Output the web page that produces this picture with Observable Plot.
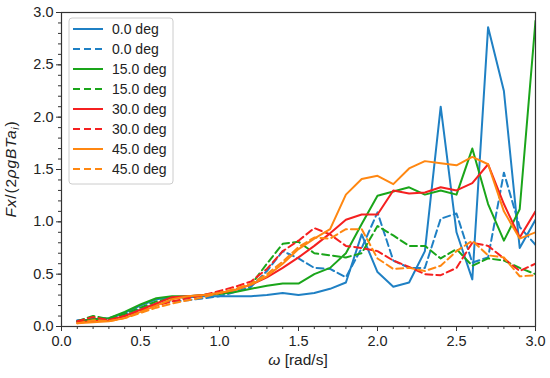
<!DOCTYPE html>
<html>
<head>
<meta charset="utf-8">
<script src="https://cdn.jsdelivr.net/npm/d3@7"></script>
<script src="https://cdn.jsdelivr.net/npm/@observablehq/plot@0.6"></script>
<style>
  html, body { margin: 0; padding: 0; background: #fff; }
  #chart { width: 550px; height: 378px; }
</style>
</head>
<body>
<div id="chart"></div>
<script>
const omega = [0.1,0.2,0.3,0.4,0.5,0.6,0.7,0.8,0.9,1.0,1.1,1.2,1.3,1.4,1.5,1.6,1.7,1.8,1.9,2.0,2.1,2.2,2.3,2.4,2.5,2.6,2.7,2.8,2.9,3.0];

const deg0_solid  = [0.05,0.07,0.08,0.13,0.20,0.26,0.28,0.28,0.29,0.29,0.29,0.29,0.30,0.32,0.30,0.32,0.36,0.42,0.88,0.52,0.38,0.42,0.72,2.10,0.90,0.45,2.86,2.25,0.75,1.02];
const deg0_dashed = [0.06,0.07,0.07,0.11,0.17,0.22,0.24,0.25,0.27,0.29,0.33,0.38,0.53,0.72,0.65,0.56,0.55,0.47,0.75,1.09,0.63,0.56,0.56,1.03,1.08,0.61,0.66,1.47,0.95,0.78];
const deg15_solid = [0.05,0.07,0.08,0.14,0.21,0.27,0.29,0.29,0.30,0.31,0.33,0.36,0.39,0.41,0.41,0.50,0.56,0.70,0.98,1.25,1.29,1.33,1.26,1.30,1.26,1.70,1.17,0.82,1.12,2.92];
const deg15_dashed= [0.05,0.10,0.07,0.12,0.18,0.24,0.27,0.28,0.30,0.32,0.35,0.40,0.60,0.79,0.81,0.70,0.68,0.66,0.70,0.96,0.87,0.77,0.77,0.65,0.74,0.58,0.65,0.63,0.56,0.50];
const deg30_solid = [0.04,0.05,0.06,0.10,0.16,0.22,0.28,0.29,0.30,0.32,0.35,0.40,0.47,0.56,0.66,0.77,0.89,1.02,1.07,1.07,1.30,1.27,1.28,1.33,1.30,1.37,1.55,1.17,0.85,1.10];
const deg30_dashed= [0.05,0.09,0.06,0.10,0.15,0.20,0.24,0.27,0.30,0.34,0.38,0.43,0.55,0.72,0.82,0.94,0.88,0.77,0.75,0.72,0.63,0.57,0.50,0.49,0.56,0.80,0.77,0.65,0.53,0.60];
const deg45_solid = [0.03,0.04,0.05,0.08,0.14,0.20,0.26,0.29,0.30,0.32,0.35,0.40,0.48,0.60,0.74,0.84,0.93,1.26,1.41,1.44,1.36,1.51,1.58,1.56,1.54,1.62,1.55,1.10,0.84,0.90];
const deg45_dashed= [0.03,0.06,0.05,0.08,0.13,0.18,0.22,0.25,0.28,0.32,0.36,0.41,0.50,0.62,0.76,0.85,0.84,0.93,0.93,0.65,0.55,0.56,0.53,0.58,0.72,0.82,0.68,0.66,0.48,0.49];

const seriesLabels = ["0.0 deg","0.0 deg","15.0 deg","15.0 deg","30.0 deg","30.0 deg","45.0 deg","45.0 deg"];
const seriesValues = [deg0_solid,deg0_dashed,deg15_solid,deg15_dashed,deg30_solid,deg30_dashed,deg45_solid,deg45_dashed];
const seriesColors = ["#1f80c4","#1f80c4","#1aa51a","#1aa51a","#f52020","#f52020","#ff8711","#ff8711"];
const seriesDashed = [false,true,false,true,false,true,false,true];

const xTicks = [0.0,0.5,1.0,1.5,2.0,2.5,3.0];
const yTicks = [0.0,0.5,1.0,1.5,2.0,2.5,3.0];
const minorTicks = [0,0.1,0.2,0.3,0.4,0.5,0.6,0.7,0.8,0.9,1.0,1.1,1.2,1.3,1.4,1.5,1.6,1.7,1.8,1.9,2.0,2.1,2.2,2.3,2.4,2.5,2.6,2.7,2.8,2.9,3.0];

const FONT = "'Liberation Sans', Arial, sans-serif";
const fmt = d3.format(".1f");

const lineMarks = seriesValues.map((vals, i) => {
  const data = omega.map((w, j) => ({w, v: vals[j]}));
  return Plot.line(data, {
    x: "w", y: "v",
    stroke: seriesColors[i],
    strokeWidth: 2,
    strokeDasharray: seriesDashed[i] ? "7,4" : null,
    strokeLinejoin: "round",
    clip: true
  });
});

const plot = Plot.plot({
  width: 550,
  height: 378,
  marginLeft: 61,
  marginRight: 15,
  marginTop: 12,
  marginBottom: 52,
  style: {fontFamily: FONT, fontSize: "14.5px", color: "#222", background: "#fff"},
  x: {domain: [0, 3], label: null},
  y: {domain: [0, 3], label: null},
  marks: [
    ...lineMarks,
    Plot.frame({stroke: "#333", strokeWidth: 1.2}),
    Plot.axisX(minorTicks, {tickSize: 3, text: null, stroke: "#333"}),
    Plot.axisY(minorTicks, {tickSize: 3, text: null, stroke: "#333"}),
    Plot.axisX(xTicks, {tickSize: 5, tickPadding: 4, tickFormat: fmt, fontSize: 14.5, stroke: "#333", fill: "#222"}),
    Plot.axisY(yTicks, {tickSize: 5, tickPadding: 3, tickFormat: fmt, fontSize: 14.5, stroke: "#333", fill: "#222"})
  ]
});

document.getElementById("chart").appendChild(plot);

// Axis titles and legend
const svg = d3.select(plot);
const sx = plot.scale("x"), sy = plot.scale("y");
const x0 = sx.apply(0), x1 = sx.apply(3), y0 = sy.apply(0), y1 = sy.apply(3);

const xl = svg.append("text")
  .attr("x", (x0 + x1) / 2).attr("y", y0 + 39)
  .attr("text-anchor", "middle")
  .attr("font-family", FONT).attr("font-size", 15.5).attr("fill", "#222");
xl.append("tspan").attr("font-style", "italic").text("ω");
xl.append("tspan").text(" [rad/s]");

const yl = svg.append("text")
  .attr("transform", `translate(16,${(y0 + y1) / 2}) rotate(-90)`)
  .attr("text-anchor", "middle")
  .attr("font-family", FONT).attr("font-size", 15.5).attr("letter-spacing", 0.8).attr("fill", "#222");
yl.append("tspan").attr("font-style", "italic").text("Fx");
yl.append("tspan").text("/(2");
yl.append("tspan").attr("font-style", "italic").text("ρgBTa");
yl.append("tspan").attr("font-style", "italic").attr("font-size", 10.5).attr("dy", 3).text("i");
yl.append("tspan").attr("dy", -3).text(")");

const lg = svg.append("g").attr("transform", `translate(${x0 + 8},${y1 + 6})`);
lg.append("rect")
  .attr("x", 0).attr("y", 0).attr("width", 104).attr("height", 166)
  .attr("rx", 3).attr("fill", "#fff").attr("fill-opacity", 0.85)
  .attr("stroke", "#ccc").attr("stroke-width", 1);
seriesLabels.forEach((lab, i) => {
  const yy = 11 + i * 20;
  lg.append("line")
    .attr("x1", 4).attr("x2", 34).attr("y1", yy).attr("y2", yy)
    .attr("stroke", seriesColors[i]).attr("stroke-width", 2)
    .attr("stroke-dasharray", seriesDashed[i] ? "7,4" : null);
  lg.append("text")
    .attr("x", 43).attr("y", yy).attr("dy", "0.35em")
    .attr("text-anchor", "start")
    .attr("font-family", FONT).attr("font-size", 14).attr("fill", "#222")
    .text(lab);
});
</script>
</body>
</html>
